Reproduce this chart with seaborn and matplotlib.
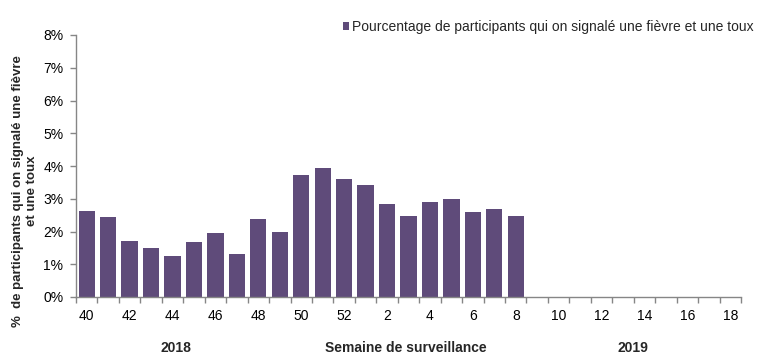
import matplotlib
matplotlib.use("Agg")
import matplotlib.pyplot as plt
import seaborn as sns
import pandas as pd
from matplotlib.ticker import FixedLocator

# ---- data ----
week_labels = [str(w) for w in range(40, 53)] + [str(w) for w in range(1, 19)]
data_weeks = [str(w) for w in range(40, 53)] + [str(w) for w in range(1, 9)]
pct_values = [2.62, 2.43, 1.71, 1.49, 1.25, 1.68, 1.95, 1.31, 2.37, 1.98,
              3.71, 3.93, 3.59, 3.43, 2.83, 2.46, 2.89, 2.98, 2.59, 2.68, 2.46]
legend_label = "Pourcentage de participants qui on signalé une fièvre et une toux"
ylabel_text = "%  de participants qui on signalé une fièvre\net une toux"
xlabel_text = "Semaine de surveillance"
year_labels = ["2018", "2019"]

bar_color = "#5F4B7A"
axis_color = "#868686"

sns.set_theme(style="white")
plt.rcParams['font.family'] = ['Liberation Sans', 'DejaVu Sans']

fig = plt.figure(figsize=(7.65, 3.61), dpi=100)
ax = fig.add_axes([76 / 765, 1 - 297 / 361, 665 / 765, 262 / 361])

df = pd.DataFrame({"semaine": data_weeks, "pct": pct_values})
sns.barplot(data=df, x="semaine", y="pct", order=week_labels, color=bar_color,
            saturation=1, width=0.76, linewidth=0, ax=ax, label=legend_label)

ax.set_xlim(-0.5, len(week_labels) - 0.5)
ax.set_ylim(0, 8)
ax.set_yticks(range(0, 9))
ax.set_yticklabels([f"{v}%" for v in range(0, 9)])
ax.set_xticks(range(len(week_labels)))
ax.set_xticklabels([lab if i % 2 == 0 else "" for i, lab in enumerate(week_labels)])
ax.xaxis.set_minor_locator(FixedLocator([i - 0.5 for i in range(len(week_labels) + 1)]))
ax.tick_params(axis="x", which="major", length=0, pad=9, labelsize=10, colors="black")
ax.tick_params(axis="x", which="minor", length=4, width=1, color=axis_color, bottom=True)
ax.tick_params(axis="y", which="major", length=4, width=1, color=axis_color, left=True,
               pad=5, labelsize=10, labelcolor="black")
ax.set_xlabel("")
ax.set_ylabel("")
for s in ["top", "right"]:
    ax.spines[s].set_visible(False)
for s in ["left", "bottom"]:
    ax.spines[s].set_color(axis_color)
    ax.spines[s].set_linewidth(1)
ax.grid(False)

leg = ax.legend(loc="center right", bbox_to_anchor=(754 / 765, 1 - 27 / 361),
                bbox_transform=fig.transFigure, frameon=False, fontsize=10,
                handlelength=0.45, handleheight=0.45, handletextpad=0.25,
                borderaxespad=0, borderpad=0)

fig.text(25 / 765, 1 - 191 / 361, ylabel_text, rotation=90, ha="center", va="center",
         fontsize=9.5, fontweight="bold", multialignment="center", linespacing=1.2)
fig.text(406 / 765, 1 - 348 / 361, xlabel_text, ha="center", va="center",
         fontsize=10, fontweight="bold")
fig.text(176 / 765, 1 - 348 / 361, year_labels[0], ha="center", va="center",
         fontsize=10, fontweight="bold")
fig.text(633 / 765, 1 - 348 / 361, year_labels[1], ha="center", va="center",
         fontsize=10, fontweight="bold")

fig.savefig("out.png", dpi=100)
